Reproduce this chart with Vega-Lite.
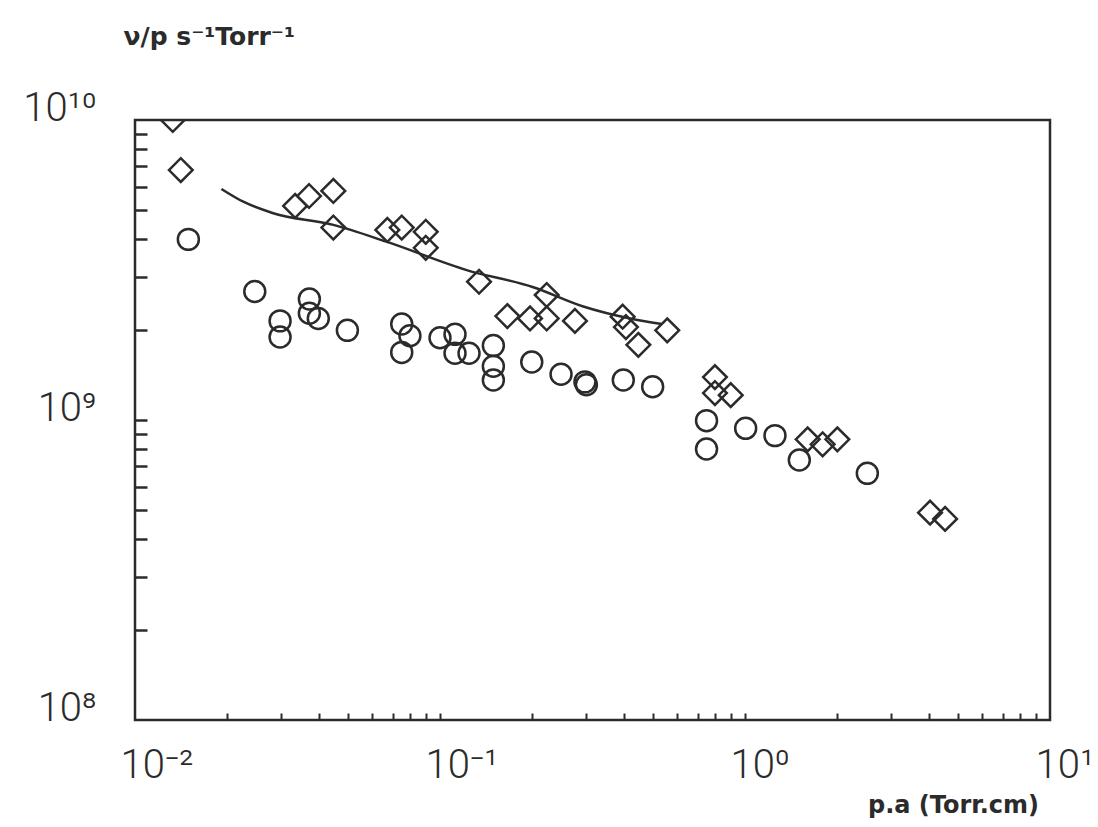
{
  "$schema": "https://vega.github.io/schema/vega-lite/v6.json",
  "width": 915,
  "height": 600,
  "autosize": {"type": "none"},
  "padding": {"left": 135, "top": 120, "right": 48, "bottom": 107},
  "background": "white",
  "config": {
    "view": {"stroke": "#2b2b2b", "strokeWidth": 2.5},
    "axis": {"grid": false, "domain": false, "tickColor": "#2b2b2b", "labelColor": "#2b2b2b", "titleColor": "#2b2b2b"}
  },
  "datasets": {
    "fit": [
      {"pa": 0.0192, "nu": 5.89e9},
      {"pa": 0.02265, "nu": 5.34e9},
      {"pa": 0.0284, "nu": 4.89e9},
      {"pa": 0.0447, "nu": 4.47e9},
      {"pa": 0.0667, "nu": 3.93e9},
      {"pa": 0.1223, "nu": 3.16e9},
      {"pa": 0.2023, "nu": 2.77e9},
      {"pa": 0.295, "nu": 2.39e9},
      {"pa": 0.42, "nu": 2.18e9},
      {"pa": 0.533, "nu": 2.09e9}
    ],
    "pts": [
      {"pa": 0.0133, "nu": 1.0e10, "series": "D"},
      {"pa": 0.01413, "nu": 6.81e9, "series": "D"},
      {"pa": 0.0335, "nu": 5.17e9, "series": "D"},
      {"pa": 0.0372, "nu": 5.58e9, "series": "D"},
      {"pa": 0.0447, "nu": 5.80e9, "series": "D"},
      {"pa": 0.0447, "nu": 4.38e9, "series": "D"},
      {"pa": 0.0672, "nu": 4.30e9, "series": "D"},
      {"pa": 0.0749, "nu": 4.38e9, "series": "D"},
      {"pa": 0.0898, "nu": 4.24e9, "series": "D"},
      {"pa": 0.0898, "nu": 3.75e9, "series": "D"},
      {"pa": 0.1343, "nu": 2.89e9, "series": "D"},
      {"pa": 0.1663, "nu": 2.22e9, "series": "D"},
      {"pa": 0.1973, "nu": 2.18e9, "series": "D"},
      {"pa": 0.2238, "nu": 2.18e9, "series": "D"},
      {"pa": 0.2238, "nu": 2.61e9, "series": "D"},
      {"pa": 0.277, "nu": 2.14e9, "series": "D"},
      {"pa": 0.397, "nu": 2.21e9, "series": "D"},
      {"pa": 0.407, "nu": 2.04e9, "series": "D"},
      {"pa": 0.447, "nu": 1.78e9, "series": "D"},
      {"pa": 0.556, "nu": 1.99e9, "series": "D"},
      {"pa": 0.797, "nu": 1.39e9, "series": "D"},
      {"pa": 0.797, "nu": 1.23e9, "series": "D"},
      {"pa": 0.898, "nu": 1.21e9, "series": "D"},
      {"pa": 1.605, "nu": 8.62e8, "series": "D"},
      {"pa": 1.797, "nu": 8.30e8, "series": "D"},
      {"pa": 2.008, "nu": 8.62e8, "series": "D"},
      {"pa": 4.043, "nu": 4.91e8, "series": "D"},
      {"pa": 4.53, "nu": 4.68e8, "series": "D"},
      {"pa": 0.01496, "nu": 4.0e9, "series": "O"},
      {"pa": 0.0247, "nu": 2.68e9, "series": "O"},
      {"pa": 0.0299, "nu": 2.14e9, "series": "O"},
      {"pa": 0.0299, "nu": 1.89e9, "series": "O"},
      {"pa": 0.0373, "nu": 2.53e9, "series": "O"},
      {"pa": 0.0373, "nu": 2.27e9, "series": "O"},
      {"pa": 0.0399, "nu": 2.18e9, "series": "O"},
      {"pa": 0.0497, "nu": 1.99e9, "series": "O"},
      {"pa": 0.0749, "nu": 2.09e9, "series": "O"},
      {"pa": 0.0797, "nu": 1.91e9, "series": "O"},
      {"pa": 0.0749, "nu": 1.68e9, "series": "O"},
      {"pa": 0.100, "nu": 1.88e9, "series": "O"},
      {"pa": 0.112, "nu": 1.93e9, "series": "O"},
      {"pa": 0.112, "nu": 1.67e9, "series": "O"},
      {"pa": 0.1245, "nu": 1.67e9, "series": "O"},
      {"pa": 0.1496, "nu": 1.77e9, "series": "O"},
      {"pa": 0.1496, "nu": 1.51e9, "series": "O"},
      {"pa": 0.1496, "nu": 1.36e9, "series": "O"},
      {"pa": 0.1999, "nu": 1.56e9, "series": "O"},
      {"pa": 0.2494, "nu": 1.42e9, "series": "O"},
      {"pa": 0.2987, "nu": 1.34e9, "series": "O"},
      {"pa": 0.302, "nu": 1.31e9, "series": "O"},
      {"pa": 0.399, "nu": 1.36e9, "series": "O"},
      {"pa": 0.498, "nu": 1.29e9, "series": "O"},
      {"pa": 0.748, "nu": 9.95e8, "series": "O"},
      {"pa": 0.748, "nu": 8.0e8, "series": "O"},
      {"pa": 1.005, "nu": 9.38e8, "series": "O"},
      {"pa": 1.254, "nu": 8.87e8, "series": "O"},
      {"pa": 1.507, "nu": 7.36e8, "series": "O"},
      {"pa": 2.518, "nu": 6.64e8, "series": "O"}
    ]
  },
  "layer": [
    {
      "data": {"name": "fit"},
      "mark": {"type": "line", "color": "#2b2b2b", "strokeWidth": 2.5, "interpolate": "monotone", "clip": true},
      "encoding": {
        "x": {
          "field": "pa", "type": "quantitative",
          "scale": {"type": "log", "domain": [0.01, 10], "nice": false},
          "axis": {
            "orient": "bottom",
            "values": [0.01, 0.1, 1, 10],
            "ticks": false,
            "labelExpr": "datum.value < 0.05 ? '10⁻²' : datum.value < 0.5 ? '10⁻¹' : datum.value < 5 ? '10⁰' : '10¹'",
            "labelFont": "Roboto", "labelFontWeight": 300, "labelFontSize": 40,
            "labelAlign": "left", "labelBaseline": "alphabetic",
            "labelOffset": -15, "labelPadding": 57,
            "labelOverlap": false, "labelFlush": false, "labelBound": false,
            "title": "p.a (Torr.cm)",
            "titleFont": "DejaVu Sans", "titleFontSize": 24, "titleFontWeight": "bold",
            "titleAlign": "center", "titleBaseline": "alphabetic",
            "titleX": 818, "titleY": 92
          }
        },
        "y": {
          "field": "nu", "type": "quantitative",
          "scale": {"type": "log", "domain": [1e8, 1e10], "nice": false},
          "axis": {
            "orient": "left",
            "values": [1e8, 1e9, 1e10],
            "ticks": false,
            "labelExpr": "datum.value < 5e8 ? '10⁸' : datum.value < 5e9 ? '10⁹' : '10¹⁰'",
            "labelFont": "Roboto", "labelFontWeight": 300, "labelFontSize": 40,
            "labelAlign": "right", "labelBaseline": "alphabetic",
            "labelPadding": 39,
            "labelOverlap": false, "labelFlush": false, "labelBound": false,
            "title": "ν/p  s⁻¹Torr⁻¹",
            "titleAngle": 0,
            "titleFont": "DejaVu Sans", "titleFontSize": 25, "titleFontWeight": "bold",
            "titleAlign": "left", "titleBaseline": "alphabetic",
            "titleX": -12, "titleY": -76
          }
        }
      }
    },
    {
      "data": {"name": "pts"},
      "mark": {"type": "point", "filled": false, "strokeWidth": 2.5, "color": "#2b2b2b", "opacity": 1, "clip": true},
      "encoding": {
        "x": {
          "field": "pa", "type": "quantitative",
          "scale": {"type": "log", "domain": [0.01, 10], "nice": false},
          "axis": {
            "orient": "bottom",
            "values": [0.02, 0.03, 0.04, 0.05, 0.06, 0.07, 0.08, 0.09, 0.1, 0.2, 0.3, 0.4, 0.5, 0.6, 0.7, 0.8, 0.9, 1, 2, 3, 4, 5, 6, 7, 8, 9],
            "labels": false, "tickSize": -7, "tickWidth": 2, "title": null
          }
        },
        "y": {
          "field": "nu", "type": "quantitative",
          "scale": {"type": "log", "domain": [1e8, 1e10], "nice": false},
          "axis": {
            "orient": "left",
            "values": [2e8, 3e8, 4e8, 5e8, 6e8, 7e8, 8e8, 9e8, 1e9, 2e9, 3e9, 4e9, 5e9, 6e9, 7e9, 8e9, 9e9],
            "labels": false, "tickSize": -12, "tickWidth": 2.5, "title": null
          }
        },
        "shape": {
          "field": "series", "type": "nominal",
          "scale": {"domain": ["O", "D"], "range": ["circle", "diamond"]},
          "legend": null
        },
        "size": {
          "field": "series", "type": "nominal",
          "scale": {"domain": ["O", "D"], "range": [440, 560]},
          "legend": null
        }
      }
    }
  ],
  "resolve": {"axis": {"x": "independent", "y": "independent"}}
}
